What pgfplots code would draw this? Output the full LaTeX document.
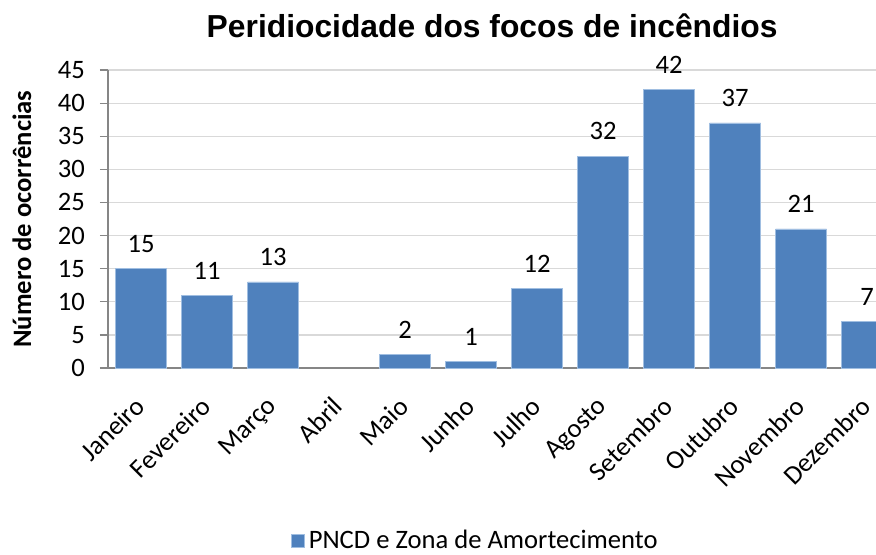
\documentclass[border=0pt]{standalone}
\usepackage{fontspec}
\setmainfont{Carlito}
\newfontfamily\titlefont{Liberation Sans}
\usepackage{pgfplots}
\pgfplotsset{compat=1.18}
\usepackage{pgfplotstable}
\definecolor{barblue}{RGB}{79,129,189}
\definecolor{baredge}{RGB}{160,190,225}
\definecolor{gridgray}{RGB}{217,217,217}
\definecolor{axisgray}{RGB}{134,134,134}
\pgfplotstableread{
x y label
0 15 15
1 11 11
2 13 13
3 0 {}
4 2 2
5 1 1
6 12 12
7 32 32
8 42 42
9 37 37
10 21 21
11 7 7
}\data
\begin{document}
\begin{tikzpicture}
\useasboundingbox (0,0) rectangle (438pt,277pt);
\clip (0,0) rectangle (438pt,277pt);
\begin{axis}[
  at={(54pt,93pt)}, anchor=south west,
  scale only axis, width=396pt, height=149pt,
  xmin=-0.5, xmax=11.5, ymin=0, ymax=45,
  ytick={0,5,...,45},
  xtick={0,...,11},
  xticklabels={Janeiro,Fevereiro,Março,Abril,Maio,Junho,Julho,Agosto,Setembro,Outubro,Novembro,Dezembro},
  x tick label style={rotate=45, anchor=north east, font=\fontsize{13.3}{15}\selectfont, yshift=-0.5pt, xshift=-6pt},
  y tick label style={font=\fontsize{13.3}{15}\selectfont, xshift=-4pt},
  /pgf/number format/assume math mode=true,
  axis x line*=bottom, axis y line*=left,
  axis line style={axisgray, line width=0.6pt},
  ymajorgrids, grid style={gridgray, line width=0.6pt},
  tick align=outside,
  ytick style={axisgray, line width=0.6pt}, major tick length=4pt,
  xtick style={draw=none},
  ybar, bar width=25.5pt,
  clip=false,
  title={Peridiocidade dos focos de incêndios},
  title style={at={(axis description cs:0.485,1.107)}, anchor=center, font=\titlefont\bfseries\fontsize{15.9}{18}\selectfont},
  ylabel={Número de ocorrências},
  ylabel style={at={(axis description cs:-0.1086,0.5)}, anchor=center, font=\bfseries\fontsize{13.3}{15}\selectfont},
  legend style={draw=none, fill=none, at={(axis description cs:0.465,-0.58)}, anchor=center, font=\fontsize{13.3}{15}\selectfont},
  legend image code/.code={\draw[fill=barblue, draw=baredge, line width=0.4pt] (0pt,-3.2pt) rectangle (6.5pt,3.3pt);},
  nodes near coords, point meta=explicit symbolic,
  every node near coord/.append style={font=\fontsize{13.3}{15}\selectfont, yshift=4.5pt, black},
]
\addplot[fill=barblue, draw=baredge, line width=0.4pt, skip coords between index={3}{4}] table[x=x, y=y, meta=label] {\data};
\addlegendentry{PNCD e Zona de Amortecimento}
\end{axis}
\end{tikzpicture}
\end{document}
